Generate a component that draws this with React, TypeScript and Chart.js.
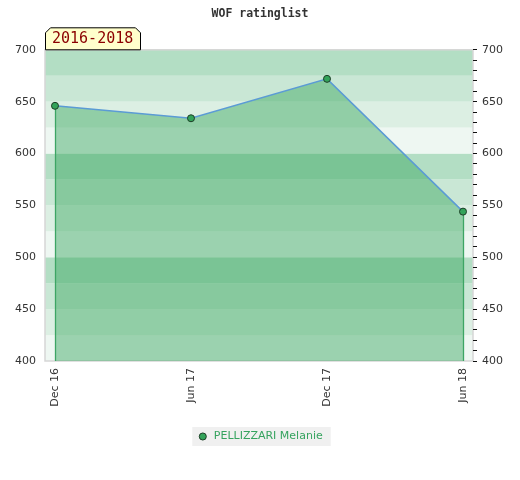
import React, { useEffect, useRef } from "react";
import { Chart, registerables } from "chart.js";

Chart.register(...registerables);

const periodLabels = ["Dec 16", "Jun 17", "Dec 17", "Jun 18"];
const ratings = [646, 634, 672, 544];
const seriesName = "PELLIZZARI Melanie";
const chartTitle = "WOF ratinglist";
const rangeLabel = "2016-2018";
const yMin = 400;
const yMax = 700;
const bandStep = 25;
const bandColors = ["#eef7f2", "#dcefe3", "#c9e7d5", "#b3dec4"];

const bandsPlugin = {
  id: "bands",
  beforeDraw(chart: any) {
    const { ctx, chartArea, scales } = chart;
    const y = scales.y;
    ctx.save();
    const lg = chart.legend;
    if (lg && lg.legendHitBoxes && lg.legendHitBoxes.length) {
      const hb = lg.legendHitBoxes[0];
      ctx.fillStyle = "#f0f0f0";
      ctx.fillRect(hb.left - 5, hb.top - 4, hb.width + 13, hb.height + 8);
    }
    let i = 0;
    for (let v = yMin; v < yMax; v += bandStep, i++) {
      const top = y.getPixelForValue(v + bandStep);
      const bottom = y.getPixelForValue(v);
      ctx.fillStyle = bandColors[i % bandColors.length];
      ctx.fillRect(chartArea.left, top, chartArea.right - chartArea.left, bottom - top);
    }
    ctx.strokeStyle = "#d6d6d6";
    ctx.lineWidth = 1.5;
    ctx.strokeRect(chartArea.left, chartArea.top, chartArea.right - chartArea.left, chartArea.bottom - chartArea.top);
    ctx.restore();
  },
  beforeDatasetDraw(chart: any, args: any) {
    const meta = args.meta;
    const pts = meta.data;
    if (!pts || pts.length < 2) return;
    const { ctx, chartArea } = chart;
    ctx.save();
    ctx.strokeStyle = "#3da564";
    ctx.lineWidth = 1.3;
    [pts[0], pts[pts.length - 1]].forEach((p: any) => {
      const x = Math.round(p.x) + 0.5;
      ctx.beginPath();
      ctx.moveTo(x, p.y);
      ctx.lineTo(x, chartArea.bottom);
      ctx.stroke();
    });
    ctx.restore();
  },
  afterDraw(chart: any) {
    const { ctx, chartArea } = chart;
    const l = chartArea.left + 0.5;
    const b = chartArea.top;
    const w = 95;
    const h = 22;
    const c = 5;
    ctx.save();
    ctx.beginPath();
    ctx.moveTo(l, b);
    ctx.lineTo(l, b - h + c);
    ctx.lineTo(l + c, b - h);
    ctx.lineTo(l + w - c, b - h);
    ctx.lineTo(l + w, b - h + c);
    ctx.lineTo(l + w, b);
    ctx.closePath();
    ctx.fillStyle = "#ffffcc";
    ctx.fill();
    ctx.strokeStyle = "#000";
    ctx.lineWidth = 1;
    ctx.stroke();
    ctx.fillStyle = "#8b0000";
    ctx.font = "15px 'DejaVu Sans Mono'";
    ctx.textBaseline = "middle";
    ctx.textAlign = "left";
    ctx.fillText(rangeLabel, l + 6.5, b - h / 2 + 0.5);
    ctx.restore();
  },
};

export default function App() {
  const ref = useRef<HTMLCanvasElement | null>(null);
  useEffect(() => {
    if (!ref.current) return;
    const n = periodLabels.length;
    const pad = 0.0735;
    const chart = new Chart(ref.current, {
      type: "line",
      data: {
        datasets: [
          {
            label: seriesName,
            data: ratings.map((r, i) => ({ x: i, y: r })),
            borderColor: "#5b9bd5",
            borderWidth: 1.5,
            backgroundColor: "rgba(49,165,89,0.44)",
            fill: "start",
            tension: 0,
            pointRadius: 3.5,
            pointBackgroundColor: "#33a35a",
            pointBorderColor: "#1d3f27",
            pointBorderWidth: 1,
          },
        ],
      },
      options: {
        animation: false,
        responsive: false,
        layout: { padding: { left: 0, right: 0, top: 0, bottom: 28 } },
        scales: {
          x: {
            type: "linear",
            min: -pad,
            max: n - 1 + pad,
            grid: { display: false, drawTicks: false, tickLength: 0 },
            border: { display: false },
            afterBuildTicks: (s: any) => {
              s.ticks = periodLabels.map((_, i) => ({ value: i }));
            },
            afterFit: (s: any) => {
              s.height = 56;
            },
            ticks: {
              autoSkip: false,
              maxRotation: 90,
              minRotation: 90,
              padding: 7,
              color: "#333",
              font: { family: "DejaVu Sans", size: 11 },
              callback: (v: any) => periodLabels[Math.round(v)] ?? "",
            },
          },
          y: {
            position: "left",
            min: yMin,
            max: yMax,
            grid: { display: false, drawTicks: false, tickLength: 0 },
            border: { display: false },
            afterFit: (s: any) => {
              s.width = 45;
            },
            ticks: {
              stepSize: 50,
              padding: 9,
              color: "#333",
              font: { family: "DejaVu Sans", size: 11 },
            },
          },
          y2: {
            position: "right",
            min: yMin,
            max: yMax,
            border: { display: false },
            grid: {
              drawOnChartArea: false,
              drawTicks: true,
              tickLength: 4,
              tickColor: "#111",
            },
            afterFit: (s: any) => {
              s.width = 47;
            },
            ticks: {
              stepSize: 10,
              autoSkip: false,
              padding: 5,
              color: "#333",
              font: { family: "DejaVu Sans", size: 11 },
              callback: (v: any) => (Number(v) % 50 === 0 ? String(v) : ""),
            },
          },
        },
        plugins: {
          title: {
            display: true,
            text: chartTitle,
            color: "#333",
            font: { family: "DejaVu Sans Mono", weight: "bold", size: 11.5 },
            padding: { top: 7, bottom: 29 },
          },
          legend: {
            display: true,
            position: "bottom",
            labels: {
              usePointStyle: true,
              boxWidth: 15,
              boxHeight: 5,
              padding: 14,
              color: "#36a35f",
              font: { family: "DejaVu Sans", size: 11 },
            },
          },
          tooltip: { enabled: false },
        },
      },
      plugins: [bandsPlugin],
    });
    return () => chart.destroy();
  }, []);
  return (
    <div style={{ position: "absolute", left: 0, top: 0, width: 520, height: 480, background: "#fff" }}>
      <canvas ref={ref} width={520} height={480} />
    </div>
  );
}
